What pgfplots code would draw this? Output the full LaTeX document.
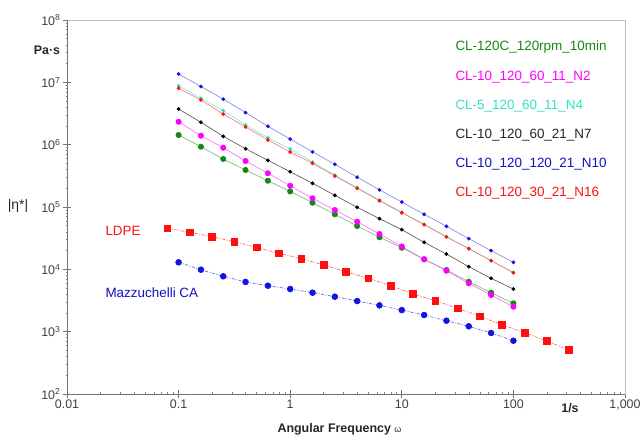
\documentclass[border=0pt]{standalone}
\usepackage{pgfplots}
\pgfplotsset{compat=1.18}
\usepackage{fontspec}
\setmainfont{Liberation Sans}

\definecolor{cgreen}{RGB}{20,135,20}
\definecolor{cmag}{RGB}{255,0,255}
\definecolor{ccyan}{RGB}{50,225,195}
\definecolor{cblue}{RGB}{20,20,225}
\definecolor{cred}{RGB}{255,15,15}
\definecolor{frame}{RGB}{150,150,150}

% complex viscosity |eta*| (Pa s) against angular frequency (1/s)
\pgfplotstableread{
w      green    mag      cyan     black    blue     red
0.1    1.429e6  2.33e6   8.83e6   3.73e6   1.361e7  8.02e6
0.1585 9.27e5   1.393e6  5.55e6   2.29e6   8.59e6   5.21e6
0.2512 5.89e5   8.93e5   3.51e6   1.361e6  5.37e6   3.10e6
0.3981 3.92e5   5.47e5   2.07e6   8.61e5   3.27e6   1.92e6
0.631  2.64e5   3.48e5   1.294e6  5.61e5   1.972e6  1.19e6
1      1.778e5  2.19e5   8.51e5   3.68e5   1.230e6  7.62e5
1.585  1.172e5  1.377e5  5.25e5   2.40e5   7.67e5   5.02e5
2.512  7.64e4   8.95e4   3.24e5   1.538e5  4.84e5   3.14e5
3.981  4.95e4   5.81e4   2.04e5   9.89e4   3.006e5  2.00e5
6.31   3.27e4   3.69e4   1.288e5  6.49e4   1.884e5  1.26e5
10     2.22e4   2.33e4   8.22e4   4.33e4   1.202e5  8.07e4
15.85  1.449e4  1.449e4  5.27e4   2.71e4   7.64e4   5.20e4
25.12  9.75e3   9.51e3   3.35e4   1.762e4  4.90e4   3.30e4
39.81  6.32e3   5.97e3   2.17e4   1.102e4  3.11e4   2.14e4
63.1   4.22e3   3.87e3   1.387e4  7.18e3   1.995e4  1.374e4
100    2.85e3   2.51e3   8.91e3   4.83e3   1.294e4  8.83e3
}\clsamples

\pgfplotstableread{
w      eta
0.0794 4.55e4
0.1259 3.93e4
0.1995 3.34e4
0.3162 2.77e4
0.5012 2.25e4
0.7943 1.807e4
1.259  1.483e4
1.995  1.172e4
3.162  9.16e3
5.012  7.18e3
7.943  5.46e3
12.59  4.06e3
19.95  3.14e3
31.62  2.37e3
50.12  1.762e3
79.43  1.291e3
125.9  961.6
199.5  707.9
316.2  508
}\ldpe

\pgfplotstableread{
w      eta
0.1    1.297e4
0.1585 9.86e3
0.2512 7.73e3
0.3981 6.27e3
0.631  5.46e3
1      4.83e3
1.585  4.22e3
2.512  3.64e3
3.981  3.10e3
6.31   2.64e3
10     2.22e3
15.85  1.849e3
25.12  1.500e3
39.81  1.219e3
63.1   953
100    716
}\mazz

\begin{document}
\begin{tikzpicture}
\path[use as bounding box] (-67bp,-41bp) rectangle (574bp,394bp);
\begin{axis}[
  scale only axis,
  width=558bp, height=374bp,
  xmode=log, ymode=log,
  xmin=0.01, xmax=1000, ymin=1e2, ymax=1e8,
  xtick={0.01,0.1,1,10,100,1000},
  xticklabels={0.01,0.1,1,10,100,{1,000}},
  minor xtick={0.02,0.03,0.04,0.05,0.06,0.07,0.08,0.09,
               0.2,0.3,0.4,0.5,0.6,0.7,0.8,0.9,
               2,3,4,5,6,7,8,9,
               20,30,40,50,60,70,80,90,
               200,300,400,500,600,700,800,900},
  ytick={1e2,1e3,1e4,1e5,1e6,1e7,1e8},
  yticklabels={10\textsuperscript{2},10\textsuperscript{3},10\textsuperscript{4},10\textsuperscript{5},10\textsuperscript{6},10\textsuperscript{7},10\textsuperscript{8}},
  minor ytick={2e2,3e2,4e2,5e2,6e2,7e2,8e2,9e2,
               2e3,3e3,4e3,5e3,6e3,7e3,8e3,9e3,
               2e4,3e4,4e4,5e4,6e4,7e4,8e4,9e4,
               2e5,3e5,4e5,5e5,6e5,7e5,8e5,9e5,
               2e6,3e6,4e6,5e6,6e6,7e6,8e6,9e6,
               2e7,3e7,4e7,5e7,6e7,7e7,8e7,9e7},
  tick pos=left,
  tick align=center,
  major tick length=8bp,
  minor tick length=3bp,
  major tick style={draw=black!55, line width=0.7pt},
  minor tick style={draw=black!50, line width=0.6pt},
  axis line style={draw=frame!60, line width=0.8pt},
  xticklabel style={font=\fontsize{12.5}{14}\selectfont, text=black!75, yshift=2bp},
  yticklabel style={font=\fontsize{12.5}{14}\selectfont, text=black!75, xshift=1bp},
  clip=false,
]
\draw[black!55, line width=0.8pt] (rel axis cs:0,1) -- (rel axis cs:0,0) -- (rel axis cs:1,0);

% cross-linked samples
\addplot[ccyan!70, line width=0.6pt, mark=*, mark size=1.6pt, mark options={draw=ccyan, fill=ccyan}] table[x=w, y=cyan] {\clsamples};
\addplot[cred!60, line width=0.6pt, mark=*, mark size=1.6pt, mark options={draw=cred, fill=cred}] table[x=w, y=red] {\clsamples};
\addplot[cblue!55, line width=0.6pt, mark=*, mark size=1.6pt, mark options={draw=cblue, fill=cblue}] table[x=w, y=blue] {\clsamples};
\addplot[black!70, line width=0.6pt, mark=*, mark size=1.6pt, mark options={draw=black, fill=black}] table[x=w, y=black] {\clsamples};
\addplot[cgreen!60, line width=0.6pt, mark=*, mark size=2.7pt, mark options={draw=cgreen, fill=cgreen}] table[x=w, y=green] {\clsamples};
\addplot[cmag!60, line width=0.6pt, mark=*, mark size=2.7pt, mark options={draw=cmag, fill=cmag}] table[x=w, y=mag] {\clsamples};

% reference materials
\addplot[cred!65, line width=0.7pt, dash pattern=on 3pt off 1.5pt on 1pt off 1.5pt, mark=square*, mark size=3.4pt, mark options={solid, draw=cred, fill=cred}] table[x=w, y=eta] {\ldpe};
\addplot[cblue!65, line width=0.7pt, dash pattern=on 3pt off 1.5pt on 1pt off 1.5pt, mark=*, mark size=2.9pt, mark options={solid, draw=cblue, fill=cblue}] table[x=w, y=eta] {\mazz};
\end{axis}

% axis titles
\node[font=\bfseries\fontsize{12.5}{14}\selectfont, text=black!85] at (-20bp,344bp) {Pa·s};
\node[font=\fontsize{14}{16}\selectfont, text=black!85] at (-49bp,188bp) {|η*|};
\node[anchor=west, font=\bfseries\fontsize{12.5}{14}\selectfont, text=black!85] at (207bp,-35bp) {Angular Frequency {\mdseries\fontsize{9}{10}\selectfont ω}};
\node[font=\bfseries\fontsize{12.5}{14}\selectfont, text=black!85] at (503bp,-14bp) {1/s};

% series names
\begin{scope}[every node/.style={anchor=west, font=\fontsize{13.5}{16}\selectfont}]
\node[text=cgreen] at (385bp,347bp) {CL-120C\_120rpm\_10min};
\node[text=cmag] at (385bp,317bp) {CL-10\_120\_60\_11\_N2};
\node[text=ccyan] at (385bp,288bp) {CL-5\_120\_60\_11\_N4};
\node[text=black!85] at (385bp,259bp) {CL-10\_120\_60\_21\_N7};
\node[text=cblue!85!black] at (385bp,230bp) {CL-10\_120\_120\_21\_N10};
\node[text=cred] at (385bp,201bp) {CL-10\_120\_30\_21\_N16};
\node[text=cred] at (35bp,163bp) {LDPE};
\node[text=cblue!85!black] at (35bp,101bp) {Mazzuchelli CA};
\end{scope}
\end{tikzpicture}
\end{document}
